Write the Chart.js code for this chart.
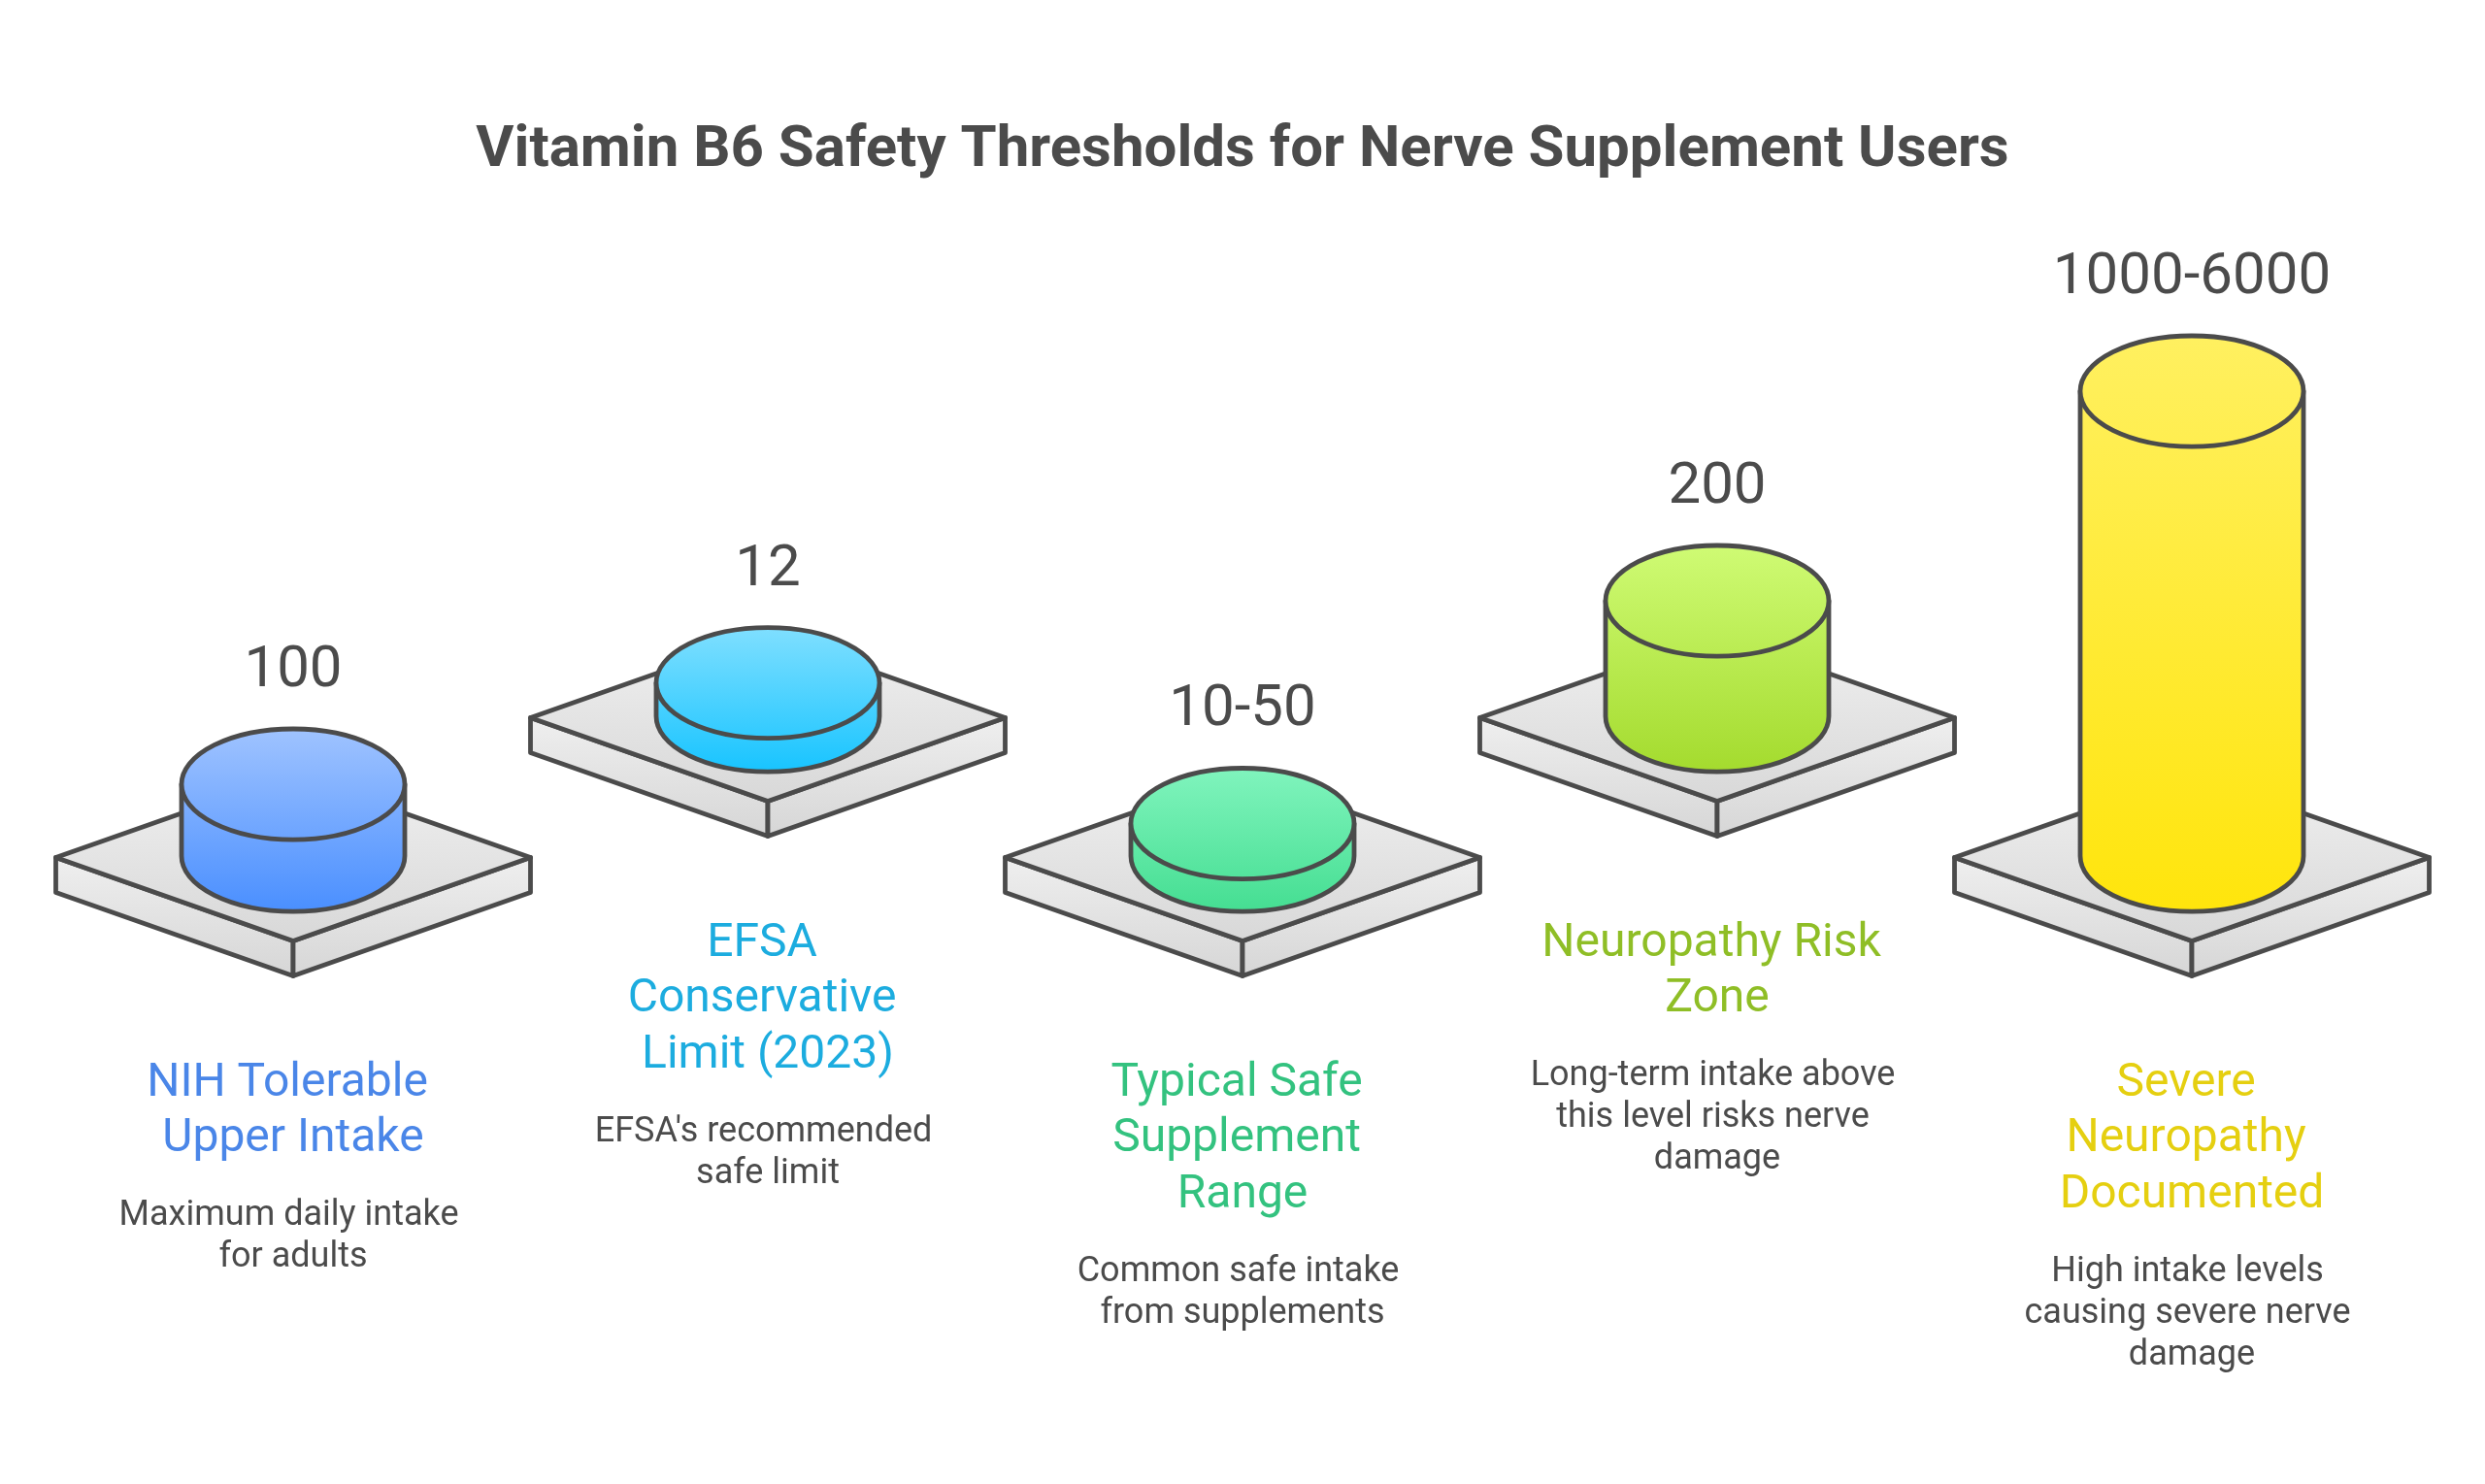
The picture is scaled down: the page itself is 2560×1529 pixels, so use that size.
<!DOCTYPE html>
<html>
<head>
<meta charset="utf-8">
<title>Vitamin B6 Safety Thresholds</title>
<script src="https://cdn.jsdelivr.net/npm/chart.js@4/dist/chart.umd.js"></script>
<style>
  html, body { margin: 0; padding: 0; background: #fff; }
  #wrap { width: 2560px; height: 1529px; }
</style>
</head>
<body>
<div id="wrap"><canvas id="chart" width="2560" height="1529"></canvas></div>
<script>
const categories = ['NIH Tolerable Upper Intake', 'EFSA Conservative Limit (2023)', 'Typical Safe Supplement Range', 'Neuropathy Risk Zone', 'Severe Neuropathy Documented']
// mg/day, low end of the stated range where there is one
const doses = [100, 12, 10, 200, 1000]
const doseLabels = ['100', '12', '10-50', '200', '1000-6000']
const nameLines = [
  ['NIH Tolerable ', 'Upper Intake'],
  ['EFSA ', 'Conservative ', 'Limit (2023)'],
  ['Typical Safe ', 'Supplement ', 'Range'],
  ['Neuropathy Risk ', 'Zone'],
  ['Severe ', 'Neuropathy ', 'Documented']
]
const descLines = [
  ['Maximum daily intake ', 'for adults'],
  ["EFSA's recommended ", 'safe limit'],
  ['Common safe intake ', 'from supplements'],
  ['Long-term intake above ', 'this level risks nerve ', 'damage'],
  ['High intake levels ', 'causing severe nerve ', 'damage']
]
const topColors = ['#9fc3ff', '#7fdfff', '#80f4bd', '#cffb74', '#fff060']
const bottomColors = ['#4a8fff', '#18c4ff', '#45de92', '#a4db2e', '#ffe50c']
const nameColors = ['#4a86e8', '#1cacdf', '#33c27f', '#8fbe26', '#e5cf10']

const INK = '#4b4b4b'
const STROKE = 4.8
const PX_PER_MG = 0.45     // vertical scale of the columns
const FOOT = -64.4         // a column stands on this value, so even a tiny dose has some height
const BACK_LIFT = 144      // rear row of plates sits this many px higher
const PLOT_H = 682
const PLATE_HALF_H = 86
const PLATE_DEPTH = 36

function grad(ctx, y0, y1, c0, c1) {
  const g = ctx.createLinearGradient(0, y0, 0, y1)
  g.addColorStop(0, c0)
  g.addColorStop(1, c1)
  return g
}

function poly(ctx, pts, fill) {
  ctx.beginPath()
  pts.forEach((p, i) => i ? ctx.lineTo(p[0], p[1]) : ctx.moveTo(p[0], p[1]))
  ctx.closePath()
  ctx.fillStyle = fill
  ctx.fill()
  ctx.stroke()
}

function drawPlate(ctx, x, y, hw) {
  const h = PLATE_HALF_H, d = PLATE_DEPTH
  poly(ctx, [[x - hw, y], [x, y + h], [x, y + h + d], [x - hw, y + d]], grad(ctx, y, y + h + d, '#efefef', '#d6d6d6'))
  poly(ctx, [[x + hw, y], [x, y + h], [x, y + h + d], [x + hw, y + d]], grad(ctx, y, y + h + d, '#efefef', '#d6d6d6'))
  poly(ctx, [[x - hw, y], [x, y - h], [x + hw, y], [x, y + h]], grad(ctx, y - h, y + h, '#f0f0f0', '#d8d8d8'))
}

function drawColumn(ctx, x, top, base, rx, ry, c0, c1) {
  const fill = grad(ctx, top - ry, base + ry, c0, c1)
  ctx.fillStyle = fill
  ctx.beginPath()
  ctx.moveTo(x - rx, top)
  ctx.lineTo(x - rx, base)
  ctx.ellipse(x, base, rx, ry, 0, Math.PI, 0, true)
  ctx.lineTo(x + rx, top)
  ctx.closePath()
  ctx.fill()
  ctx.stroke()
  ctx.beginPath()
  ctx.ellipse(x, top, rx, ry, 0, 0, Math.PI * 2)
  ctx.fill()
  ctx.stroke()
}

function textBlock(ctx, x, y, lines, font, color, step) {
  ctx.font = font
  ctx.fillStyle = color
  lines.forEach((line, i) => ctx.fillText(line, x, y + i * step))
  return y + (lines.length - 1) * step
}

// columns are the bars of the chart, just redrawn as cylinders on plates
const cylinderPlugin = {
  id: 'cylinders',
  afterDatasetsDraw(chart) {
    const ctx = chart.ctx
    ctx.save()
    ctx.lineWidth = STROKE
    ctx.strokeStyle = INK
    ctx.lineJoin = 'round'
    ctx.textAlign = 'center'
    ctx.textBaseline = 'alphabetic'
    chart.data.datasets.forEach((ds, di) => {
      chart.getDatasetMeta(di).data.forEach((bar, i) => {
        if (ds.data[i] == null) return
        const { x, y, base, width } = bar.getProps(['x', 'y', 'base', 'width'], true)
        const rx = width / 2
        const ry = width * 0.248
        const hw = chart.scales.x.width / categories.length / 2
        drawPlate(ctx, x, base + 1.5, hw)
        drawColumn(ctx, x, y, base, rx, ry, topColors[i], bottomColors[i])

        ctx.font = '400 60px Roboto'
        ctx.fillStyle = INK
        ctx.fillText(doseLabels[i], x, y - ry - 44)

        const plateBottom = base + 1 + PLATE_HALF_H + PLATE_DEPTH
        const lastName = textBlock(ctx, x, plateBottom + 123.5, nameLines[i], '400 48px Roboto', nameColors[i], 57.5)
        textBlock(ctx, x, lastName + 76, descLines[i], '400 36px Roboto', INK, 43)
      })
    })
    ctx.restore()
  }
}

const frontDoses = doses.map((v, i) => i % 2 === 0 ? v : null)
const backDoses = doses.map((v, i) => i % 2 === 1 ? v : null)
const backFoot = FOOT - BACK_LIFT / PX_PER_MG
const barStyle = {
  backgroundColor: 'transparent',
  borderWidth: 0,
  grouped: false,
  categoryPercentage: 1,
  barPercentage: 230 / 489
}

new Chart(document.getElementById('chart'), {
  type: 'bar',
  data: {
    labels: categories,
    datasets: [
      { label: 'Front row', data: frontDoses, yAxisID: 'yFront', base: FOOT, ...barStyle },
      { label: 'Back row', data: backDoses, yAxisID: 'yBack', base: FOOT, ...barStyle }
    ]
  },
  options: {
    responsive: false,
    animation: false,
    layout: { padding: { left: 57.5, right: 57.5, top: 0, bottom: 1529 - 882 } },
    plugins: {
      legend: { display: false },
      tooltip: { enabled: false },
      title: {
        display: true,
        text: 'Vitamin B6 Safety Thresholds for Nerve Supplement Users',
        color: INK,
        font: { family: 'Roboto', size: 60, weight: '700', lineHeight: '70px' },
        padding: { top: 121, bottom: 9 }
      }
    },
    scales: {
      x: { display: false },
      yFront: { display: false, min: FOOT, max: FOOT + PLOT_H / PX_PER_MG },
      yBack: { display: false, min: backFoot, max: backFoot + PLOT_H / PX_PER_MG }
    }
  },
  plugins: [cylinderPlugin]
})
</script>
</body>
</html>
